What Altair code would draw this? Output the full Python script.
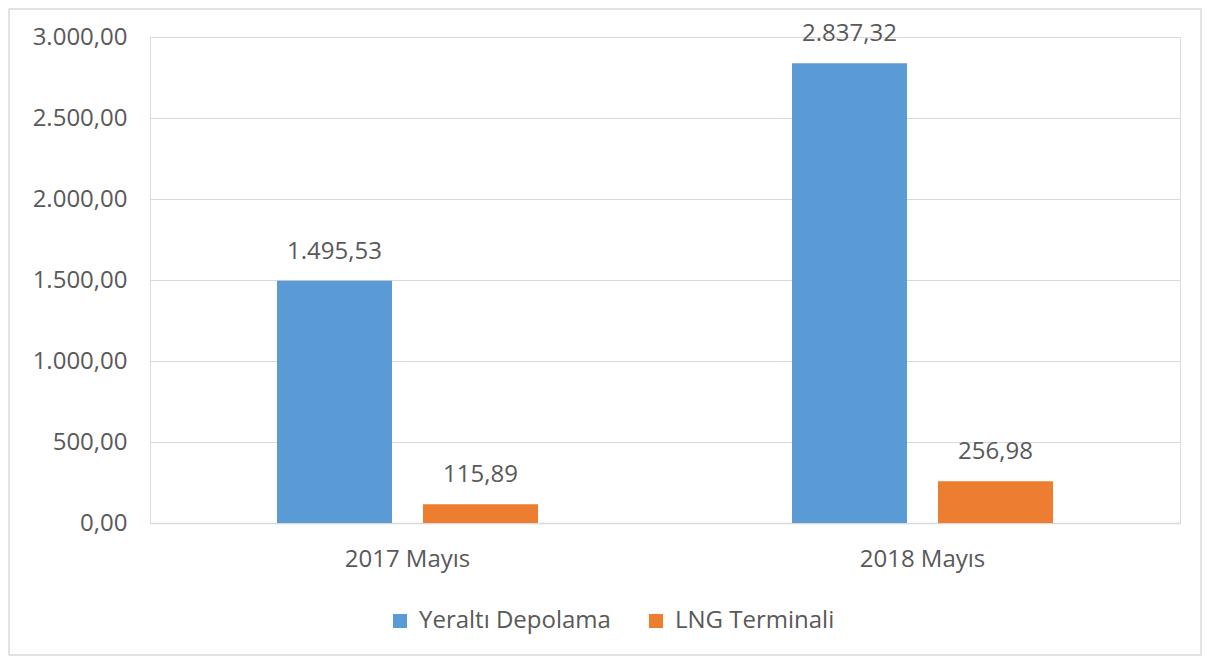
import altair as alt
import pandas as pd

categories = ["2017 Mayıs", "2018 Mayıs"]
series_names = ["Yeraltı Depolama", "LNG Terminali"]
yeralti_depolama = [1495.53, 2837.32]
lng_terminali = [115.89, 256.98]
y_ticks = [0, 500, 1000, 1500, 2000, 2500, 3000]
colors = ["#5B9BD5", "#ED7D31"]

rows = []
for i, c in enumerate(categories):
    rows.append({"period": c, "series": series_names[0], "value": yeralti_depolama[i]})
    rows.append({"period": c, "series": series_names[1], "value": lng_terminali[i]})
df = pd.DataFrame(rows)

FONT = "Open Sans"
TXT = "#595959"
GRID = "#d9d9d9"

x_enc = alt.X(
    "period:N",
    sort=categories,
    scale=alt.Scale(paddingInner=0, paddingOuter=0),
    axis=alt.Axis(
        title=None, labelAngle=0, ticks=False, domainColor=GRID, domainWidth=1.5,
        labelPadding=24, labelFontSize=24, labelColor=TXT, labelFont=FONT, grid=False,
    ),
)
xoff_enc = alt.XOffset(
    "series:N",
    sort=series_names,
    scale=alt.Scale(paddingInner=0.2123, paddingOuter=0.8698),
)
y_enc = alt.Y(
    "value:Q",
    scale=alt.Scale(domain=[0, 3000], nice=False),
    axis=alt.Axis(
        title=None, values=y_ticks, format=",.2f", ticks=False, domain=False,
        gridColor=GRID, gridWidth=1.2, labelPadding=23, labelFontSize=24,
        labelColor=TXT, labelFont=FONT,
    ),
)

base = alt.Chart(df)

bars = base.mark_bar().encode(
    x=x_enc,
    xOffset=xoff_enc,
    y=y_enc,
    color=alt.Color(
        "series:N",
        sort=series_names,
        scale=alt.Scale(domain=series_names, range=colors),
        legend=alt.Legend(
            title=None, orient="none", legendX=238, legendY=572,
            direction="horizontal", symbolType="square", symbolSize=196,
            symbolStrokeWidth=0, labelFontSize=24, labelFont=FONT, labelColor=TXT,
            labelOffset=7, columnPadding=33, padding=0, labelLimit=400,
        ),
    ),
)

labels = base.mark_text(
    dy=-22, baseline="alphabetic", fontSize=24, font=FONT, color=TXT
).encode(
    x=x_enc,
    xOffset=xoff_enc,
    y=y_enc,
    text=alt.Text("value:Q", format=",.2f"),
)

frame = alt.Chart(pd.DataFrame({"f": [0]})).mark_rect(
    fillOpacity=0, stroke=GRID, strokeWidth=1.5
).encode(
    x=alt.value(-141), x2=alt.value(1051), y=alt.value(-28), y2=alt.value(618)
)

chart = alt.layer(frame, bars, labels).properties(
    width=1030,
    height=486,
    padding={"left": 142, "top": 29, "right": 22, "bottom": 134},
    autosize=alt.AutoSizeParams(type="none"),
    background="white",
).configure_view(stroke=None).configure(
    locale={"number": {"decimal": ",", "thousands": ".", "grouping": [3], "currency": ["", " TL"]}}
)

chart.save("out.html", embed_options={"renderer": "svg", "actions": False})
